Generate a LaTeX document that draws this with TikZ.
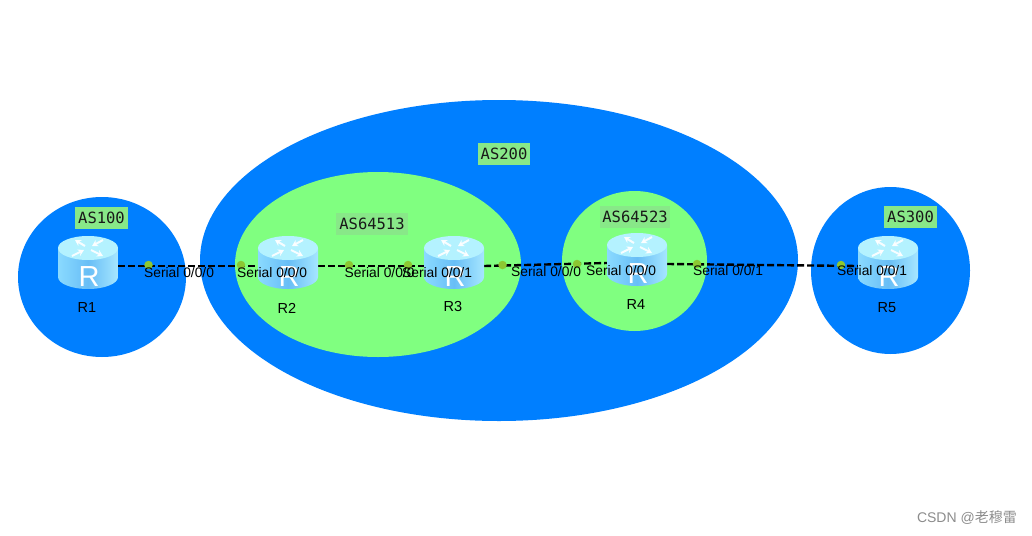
\documentclass[tikz,border=0pt]{standalone}
\usepackage{fontspec}
\setmainfont{Liberation Sans}
\newfontfamily\asmono{DejaVu Sans Mono}
\newfontfamily\cjkmark{Noto Sans CJK SC}
\usetikzlibrary{arrows.meta,shapes.geometric}
\definecolor{asblue}{HTML}{007FFF}
\definecolor{asgreen}{HTML}{80FF80}
\definecolor{tagfill}{HTML}{88E888}
\definecolor{portdot}{HTML}{8CC832}
\definecolor{bodyedge}{HTML}{8ADAFF}
\definecolor{bodymid}{HTML}{68BEF6}
\definecolor{bodylight}{HTML}{A6E6FF}
\definecolor{bodytop}{HTML}{B4F2FF}
\tikzset{
  x=1pt,y=-1pt,
  aszone/.style={ellipse,inner sep=0,fill=#1,draw=none},
  astag/.style={fill=tagfill,inner sep=0,minimum width=#1,minimum height=22,font=\asmono\fontsize{15.5}{17}\selectfont,text=black!90},
  routerbox/.style={inner sep=0,minimum width=60,minimum height=53,draw=none},
  rname/.style={inner sep=0,font=\fontsize{14.5}{16}\selectfont,text=black},
  portlabel/.style={anchor=west,inner sep=0,font=\fontsize{13.8}{15}\selectfont,text=black},
  portdotn/.style={circle,fill=portdot,inner sep=0,minimum size=8.5},
  link/.style={draw=black,line width=2.4,dash pattern=on 7 off 3},
  spoke/.style={draw=white,line width=2,opacity=0.9,-{Stealth[length=6,width=7]}},
}
\newcommand{\routerbody}[2]{% centre x, top y
  \begin{scope}[shift={(#1,#2)}]
    \path[left color=bodyedge,right color=bodylight,middle color=bodymid]
      (-30,12) -- (-30,41) arc[start angle=180,end angle=360,x radius=30,y radius=-12] -- (30,12) -- cycle;
    \fill[bodytop] (0,12) ellipse[x radius=30,y radius=12];
    \begin{scope}[shift={(0,12)}]
      \path[spoke] (-3,-2) -- (-13,-8);
      \path[spoke] (15,-8) -- (4,-2);
      \path[spoke] (-16,8) -- (-4,2);
      \path[spoke] (3,2) -- (15,8);
    \end{scope}
    \node[inner sep=0,text=white,font=\fontsize{29}{30}\selectfont] at (1,41) {R};
  \end{scope}
}
\begin{document}
\begin{tikzpicture}
\useasboundingbox (0,0) rectangle (1032,535);
\fill[white] (0,0) rectangle (1032,535);
% zones
\node[aszone=asblue,minimum width=168,minimum height=160] (z100) at (102,277) {};
\node[aszone=asblue,minimum width=598,minimum height=321] (z200) at (499,260.5) {};
\node[aszone=asgreen,minimum width=286,minimum height=185] (z64513) at (378,264.5) {};
\node[aszone=asgreen,minimum width=145,minimum height=140] (z64523) at (634.5,261) {};
\node[aszone=asblue,minimum width=159,minimum height=167] (z300) at (890.5,270.5) {};
% tags
\node[astag=53] (t100) at (101.5,218) {AS100};
\node[astag=52] (t200) at (504,154) {AS200};
\node[astag=72] (t64513) at (372,224) {AS64513};
\node[astag=70] (t64523) at (635,217) {AS64523};
\node[astag=53] (t300) at (910.5,217) {AS300};
% routers (anchors)
\node[routerbox] (r1) at (88,262.5) {};
\node[routerbox] (r2) at (288,262.5) {};
\node[routerbox] (r3) at (454,262.5) {};
\node[routerbox] (r4) at (637,259.5) {};
\node[routerbox] (r5) at (888,262.5) {};
% links
\draw[link] ([yshift=-3.5]r1.east) -- ([yshift=-3.5]r2.west);
\draw[link] ([yshift=-3.5]r2.east) -- ([yshift=-3.5]r3.west);
\draw[link] ([yshift=-3.5]r3.east) -- ([yshift=-3.5]r4.west);
\draw[link] ([yshift=-4.5]r4.east) -- ([yshift=-3.5]r5.west);
% router bodies
\routerbody{88}{236}
\routerbody{288}{236}
\routerbody{454}{236}
\routerbody{637}{233}
\routerbody{888}{236}
% port dots
\node[portdotn] (d1) at (148.5,265) {};
\node[portdotn] (d2) at (241,265) {};
\node[portdotn] (d3) at (349,265) {};
\node[portdotn] (d4) at (408,265) {};
\node[portdotn] (d5) at (502.5,265) {};
\node[portdotn] (d6) at (577,264) {};
\node[portdotn] (d7) at (697,264) {};
\node[portdotn] (d8) at (841,265) {};
% port labels
\node[portlabel] (p1) at (144,273) {Serial 0/0/0};
\node[portlabel] (p2) at (237,273) {Serial 0/0/0};
\node[portlabel] (p3) at (344.5,273) {Serial 0/0/0};
\node[portlabel] (p4) at (402,273) {Serial 0/0/1};
\node[portlabel] (p5) at (511,272) {Serial 0/0/0};
\node[portlabel] (p6) at (586,270.5) {Serial 0/0/0};
\node[portlabel] (p7) at (693,271) {Serial 0/0/1};
\node[portlabel] (p8) at (837,271) {Serial 0/0/1};
% router names
\node[rname] (n1) at (87,308) {R1};
\node[rname] (n2) at (287,308) {R2};
\node[rname] (n3) at (453,307) {R3};
\node[rname] (n4) at (636,305) {R4};
\node[rname] (n5) at (887,308) {R5};
% watermark
\node[inner sep=0,anchor=east,text=black!45,font=\fontsize{14}{16}\selectfont] (wm) at (1017,518) {CSDN @{\cjkmark 老穆雷}};
\end{tikzpicture}
\end{document}
